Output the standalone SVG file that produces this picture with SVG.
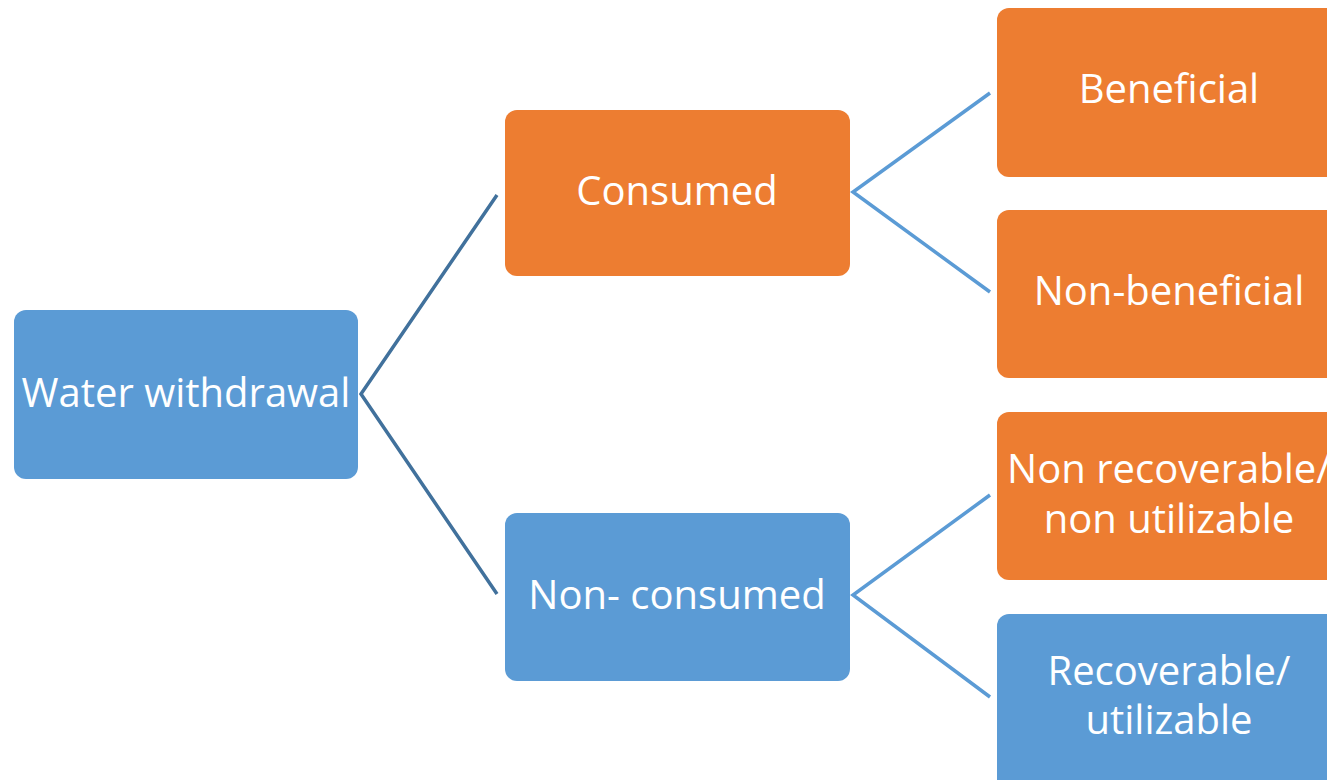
<svg xmlns="http://www.w3.org/2000/svg" width="1327" height="780" viewBox="0 0 1327 780">
<style>
.box{stroke:none}
.blue{fill:#5B9BD5}
.orange{fill:#ED7D31}
.lbl{font-family:"Open Sans","Liberation Sans",sans-serif;font-size:40px;fill:#FFFFFF;text-anchor:middle}
.c1{stroke:#41719C;stroke-width:3.5;fill:none}
.c2{stroke:#5B9BD5;stroke-width:3.5;fill:none}
</style>
<rect width="1327" height="780" fill="#FFFFFF"/>
<g id="connectors">
<polyline class="c1" points="497,195 361,394 497,594"/>
<polyline class="c2" points="990,93 853,192 990,292"/>
<polyline class="c2" points="990,495 853,595 990,697"/>
</g>
<g id="water-withdrawal">
<rect class="box blue" x="14" y="310" width="344" height="169" rx="12"/>
<text class="lbl" x="186" y="407">Water withdrawal</text>
</g>
<g id="consumed">
<rect class="box orange" x="505" y="110" width="345" height="166" rx="12"/>
<text class="lbl" x="677" y="205">Consumed</text>
</g>
<g id="non-consumed">
<rect class="box blue" x="505" y="513" width="345" height="168" rx="12"/>
<text class="lbl" x="677" y="609">Non- consumed</text>
</g>
<g id="beneficial">
<rect class="box orange" x="997" y="8" width="345" height="169" rx="12"/>
<text class="lbl" x="1169" y="103">Beneficial</text>
</g>
<g id="non-beneficial">
<rect class="box orange" x="997" y="210" width="345" height="168" rx="12"/>
<text class="lbl" x="1169" y="305">Non-beneficial</text>
</g>
<g id="non-recoverable">
<rect class="box orange" x="997" y="412" width="345" height="168" rx="12"/>
<text class="lbl" x="1169" y="483">Non recoverable/</text>
<text class="lbl" x="1169" y="533">non utilizable</text>
</g>
<g id="recoverable">
<rect class="box blue" x="997" y="614" width="345" height="180" rx="12"/>
<text class="lbl" x="1169" y="685">Recoverable/</text>
<text class="lbl" x="1169" y="734">utilizable</text>
</g>
</svg>
